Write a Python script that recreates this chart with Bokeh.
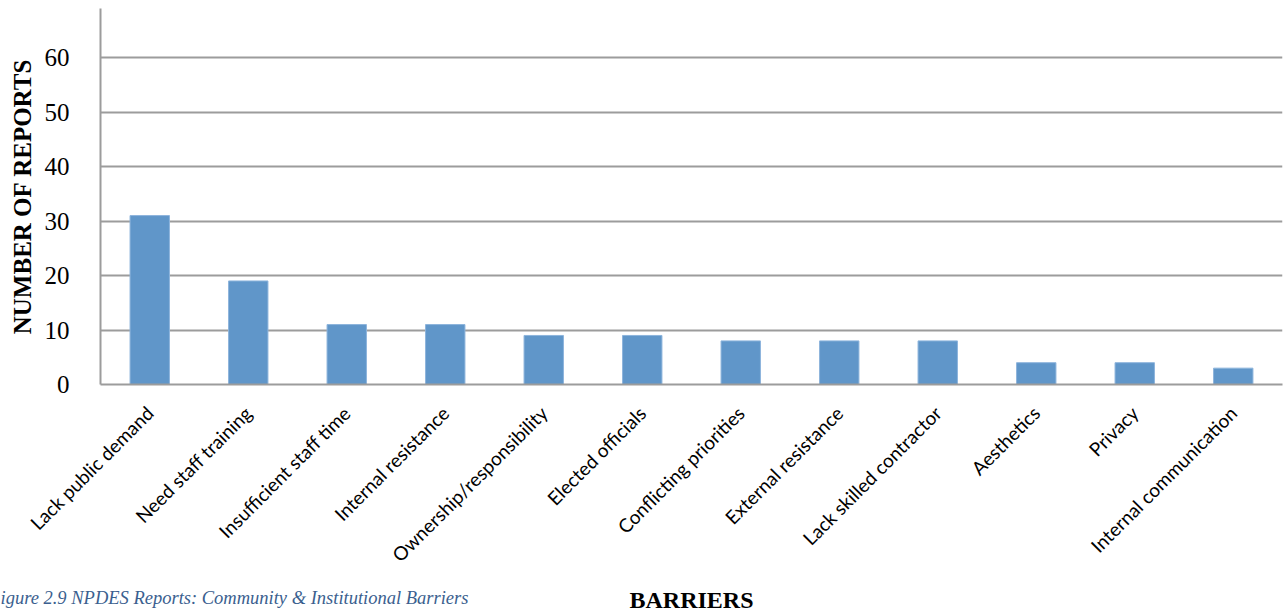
import math
from bokeh.plotting import figure
from bokeh.models import FactorRange, Range1d, FixedTicker, Title
from bokeh.embed import file_html
from bokeh.resources import INLINE

categories = ["Lack public demand", "Need staff training", "Insufficient staff time",
              "Internal resistance", "Ownership/responsibility", "Elected officials",
              "Conflicting priorities", "External resistance", "Lack skilled contractor",
              "Aesthetics", "Privacy", "Internal communication"]
reports = [31, 19, 11, 11, 9, 9, 8, 8, 8, 4, 4, 3]
y_ticks = [0, 10, 20, 30, 40, 50, 60]
x_title = "BARRIERS"
y_title = "NUMBER OF REPORTS"
caption = "igure 2.9 NPDES Reports: Community & Institutional Barriers"

GRID = "#9c9c9c"

p = figure(x_range=FactorRange(*categories, range_padding=0),
           y_range=Range1d(0, 69),
           width=1284, height=611, output_backend="svg", toolbar_location=None,
           min_border_left=100, min_border_right=2, min_border_top=8, min_border_bottom=227)

p.vbar(x=categories, top=reports, width=0.4, fill_color="#6096c9",
       line_color="#8db4dc", line_width=1)

p.outline_line_color = None
p.xgrid.grid_line_color = None
p.ygrid.grid_line_color = GRID
p.ygrid.grid_line_width = 2
p.yaxis.ticker = FixedTicker(ticks=y_ticks)

p.yaxis.axis_line_color = GRID
p.yaxis.axis_line_width = 2
p.yaxis.major_tick_line_color = None
p.yaxis.minor_tick_line_color = None
p.yaxis.major_label_text_font = "Liberation Serif"
p.yaxis.major_label_text_font_size = "25px"
p.yaxis.major_label_text_color = "#000000"
p.yaxis.major_label_standoff = 25
p.yaxis.axis_label = y_title
p.yaxis.axis_label_text_font = "Liberation Serif"
p.yaxis.axis_label_text_font_style = "bold"
p.yaxis.axis_label_text_font_size = "25px"
p.yaxis.axis_label_text_color = "#000000"
p.yaxis.axis_label_standoff = 6

p.xaxis.axis_line_color = GRID
p.xaxis.axis_line_width = 2
p.xaxis.major_tick_line_color = None
p.xaxis.minor_tick_line_color = None
p.xaxis.major_label_orientation = math.pi / 4
p.xaxis.major_label_text_font = "Lato"
p.xaxis.major_label_text_font_size = "19px"
p.xaxis.major_label_text_color = "#000000"
p.xaxis.major_label_standoff = 19

# x-axis title and figure caption share the bottom line
xt = Title(text=x_title, align="center", vertical_align="bottom", standoff=-70,
           text_font="Liberation Serif", text_font_style="bold",
           text_font_size="24px", text_color="#000000")
p.add_layout(xt, "below")
cap = Title(text=caption, align="left", offset=-100, vertical_align="bottom", standoff=-60,
            text_font="Liberation Serif", text_font_style="italic",
            text_font_size="18.5px", text_color="#3b5f8f")
p.add_layout(cap, "below")

open("out.html", "w").write(file_html(p, INLINE))
